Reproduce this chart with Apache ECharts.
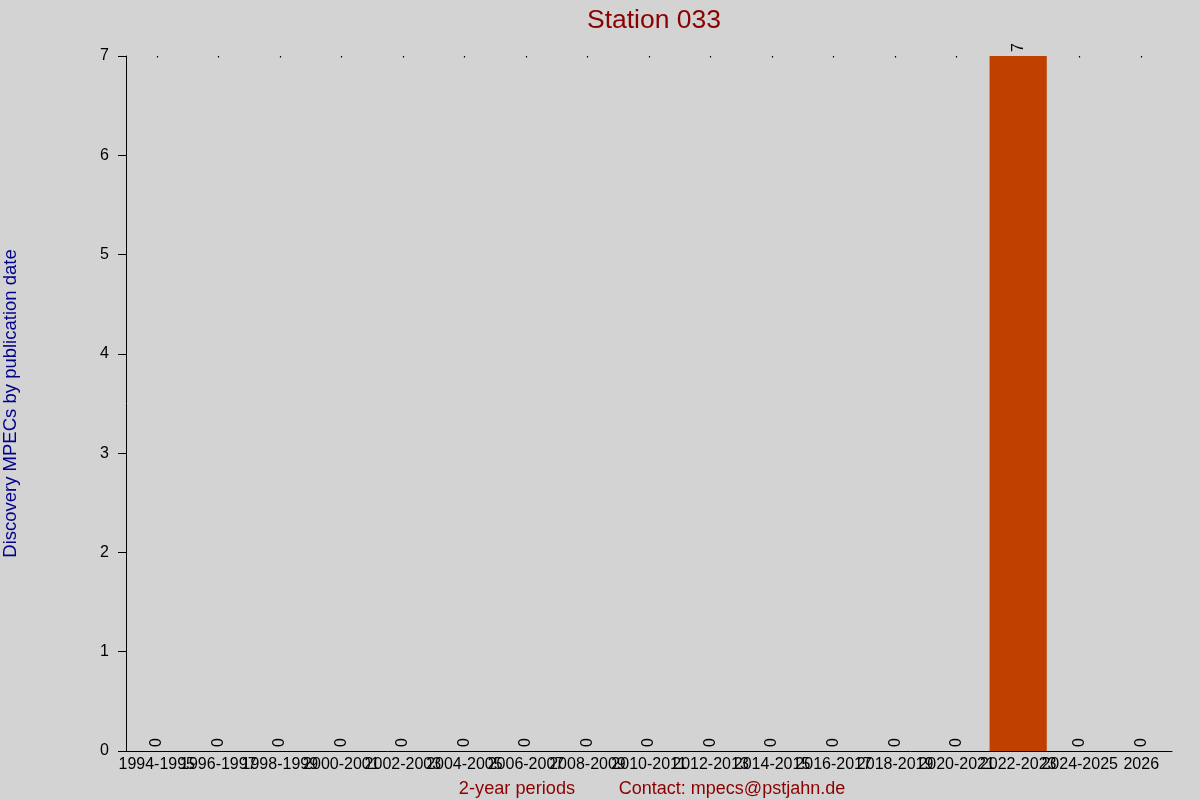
<!DOCTYPE html>
<html>
<head>
<meta charset="utf-8">
<script src="https://cdn.jsdelivr.net/npm/echarts@6/dist/echarts.min.js"></script>
<style>
html,body{margin:0;padding:0;background:#d3d3d3;}
#c{width:1200px;height:800px;}
</style>
</head>
<body>
<div id="c"></div>
<script>
var categories = ['1994-1995','1996-1997','1998-1999','2000-2001','2002-2003','2004-2005','2006-2007','2008-2009','2010-2011','2012-2013','2014-2015','2016-2017','2018-2019','2020-2021','2022-2023','2024-2025','2026'];
var discoveries = [0,0,0,0,0,0,0,0,0,0,0,0,0,0,7,0,0];
var yTicks = {min:0, max:7, interval:1};
var titleText = 'Station 033';
var yName = 'Discovery MPECs by publication date';
var xName = '2-year periods';
var contactText = 'Contact: mpecs@pstjahn.de';

var FONT = '"Liberation Sans", Arial, sans-serif';
var chart = echarts.init(document.getElementById('c'));
chart.setOption({
  backgroundColor: '#d3d3d3',
  textStyle: {fontFamily: FONT},
  title: [
    {text: titleText, left: 649, top: 2, textAlign: 'center',
     textStyle: {color: '#8b0000', fontSize: 26.5, fontWeight: 'normal', fontFamily: FONT}},
    {text: xName, left: 512, top: 775, textAlign: 'center',
     textStyle: {color: '#8b0000', fontSize: 18.2, fontWeight: 'normal', fontFamily: FONT}},
    {text: contactText, left: 727, top: 775, textAlign: 'center',
     textStyle: {color: '#8b0000', fontSize: 18, fontWeight: 'normal', fontFamily: FONT}}
  ],
  grid: {left: 126, right: 28, top: 56, bottom: 49, containLabel: false, outerBoundsMode: 'none'},
  xAxis: [{
    type: 'category',
    data: categories,
    position: 'bottom',
    axisLine: {lineStyle: {color: '#000', width: 1}},
    axisTick: {show: false},
    axisLabel: {color: '#000', fontSize: 16, interval: 0, margin: 6, fontFamily: FONT, hideOverlap: false},
    splitLine: {show: false}
  },{
    type: 'category',
    data: categories,
    position: 'top',
    axisLine: {show: false},
    axisTick: {show: true, interval: 0, alignWithLabel: true, inside: true, length: 1.5, lineStyle: {color: '#000', width: 1.2}},
    axisLabel: {show: false, interval: 0},
    splitLine: {show: false}
  }],
  yAxis: {
    type: 'value',
    min: yTicks.min, max: yTicks.max, interval: yTicks.interval,
    name: yName,
    nameLocation: 'middle',
    nameGap: 106,
    nameRotate: 90,
    nameTextStyle: {color: '#00008b', fontSize: 18.5, fontFamily: FONT},
    axisLine: {show: true, lineStyle: {color: '#000', width: 1}},
    axisTick: {show: true, length: 8, lineStyle: {color: '#000'}},
    axisLabel: {color: '#000', fontSize: 16, margin: 17, fontFamily: FONT},
    splitLine: {show: false}
  },
  series: [{
    type: 'bar',
    data: discoveries,
    barCategoryGap: '7%',
    itemStyle: {color: '#c04000'},
    label: {
      show: true,
      position: 'top',
      rotate: 90,
      align: 'left',
      verticalAlign: 'middle',
      distance: 4,
      color: '#000',
      fontSize: 16,
      fontFamily: FONT
    },
    animation: false
  }],
  animation: false
});
</script>
</body>
</html>
